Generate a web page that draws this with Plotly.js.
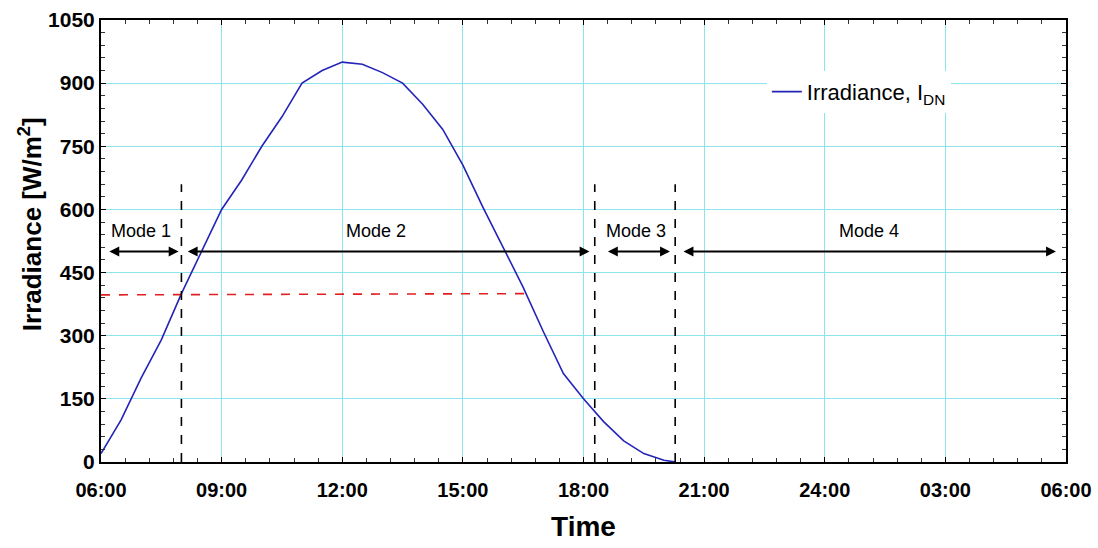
<!DOCTYPE html>
<html><head><meta charset="utf-8">
<script src="https://cdn.plot.ly/plotly-3.0.1.min.js"></script>
<style>html,body{margin:0;padding:0;background:#fff}#chart{width:1098px;height:548px}</style>
</head><body><div id="chart"></div>
<script>
// Time in hours from 06:00 (6) to next-day 06:00 (30)
const timeHours = [6.0,6.5,7.0,7.5,8.0,8.5,9.0,9.5,10.0,10.5,11.0,11.5,12.0,12.5,13.0,13.5,14.0,14.5,15.0,15.5,16.0,16.5,17.0,17.5,18.0,18.5,19.0,19.5,20.0,20.3];
const irradiance = [20,100,200,290,400,500,600,670,750,820,900,930,950,945,925,900,850,790,705,605,510,415,310,210,150,96,50,20,4,0];
const tickVals = [6,9,12,15,18,21,24,27,30];
const tickText = ["06:00","09:00","12:00","15:00","18:00","21:00","24:00","03:00","06:00"];
const modeBounds = [8.0,18.28,20.28];      // dashed vertical lines (hours)
const modeLineTop = 660;
const thresholdLevel = 400;
const thresholdEnd = 16.55;
const modeNames = ["Mode 1","Mode 2","Mode 3","Mode 4"];
const modeStart = [6.17,8.12,18.57,20.45];
const modeEnd = [7.93,18.15,20.15,29.75];
const modeLabelX = [7.0,12.85,19.3,25.1];
const arrowLevel = 500;
const labelLevel = 548;
const yTitle = '<b>Irradiance [W/m<sup>2</sup>]</b>';

const traces = [
  {x: timeHours, y: irradiance, mode:'lines', name:'Irradiance, I<sub>DN</sub>',
   line:{color:'#2424b8', width:1.6}},
  {x:[6, thresholdEnd], y:[thresholdLevel-3, thresholdLevel], mode:'lines', showlegend:false,
   line:{color:'#e02020', width:1.6, dash:'dash'}}
];
modeBounds.forEach(b => traces.push({x:[b,b], y:[0,modeLineTop], mode:'lines', showlegend:false,
   line:{color:'#000', width:1.6, dash:'dash'}}));

const annotations = [];
for (let i=0;i<modeNames.length;i++){
  annotations.push({x:modeEnd[i], y:arrowLevel, ax:modeStart[i], ay:arrowLevel, xref:'x', yref:'y', axref:'x', ayref:'y',
    showarrow:true, arrowhead:2, startarrowhead:2, arrowside:'end+start', arrowsize:1.1, arrowwidth:1.8, arrowcolor:'#000', text:''});
  annotations.push({x:modeLabelX[i], y:labelLevel, xref:'x', yref:'y', showarrow:false, text:modeNames[i],
    font:{family:'Arial, Liberation Sans, sans-serif', size:18, color:'#000'}});
}
annotations.push({x:-0.073, y:0.537, xref:'paper', yref:'paper', showarrow:false, textangle:-90, text:yTitle,
  xanchor:'center', yanchor:'middle', font:{family:'Arial, Liberation Sans, sans-serif', size:26, color:'#000'}});

const layout = {
  width:1098, height:548,
  margin:{l:101, r:32, t:20, b:86},
  paper_bgcolor:'#fff', plot_bgcolor:'#fff',
  showlegend:true,
  legend:{x:0.69, y:0.885, xanchor:'left', yanchor:'top', bgcolor:'#fff', borderwidth:0,
    font:{family:'Arial, Liberation Sans, sans-serif', size:22, color:'#000'}},
  xaxis:{range:[6,30], tickvals:tickVals, ticktext:tickText, showgrid:true, gridcolor:'rgb(140,228,236)', gridwidth:1.2,
    zeroline:false, showline:true, linecolor:'#000', linewidth:2, mirror:'ticks', ticks:'inside', ticklen:5, tickcolor:'#000',
    ticklabelstandoff:9,
    minor:{dtick:0.6, ticks:'inside', ticklen:4, tickcolor:'#333', showgrid:false},
    tickfont:{family:'Arial, Liberation Sans, sans-serif', size:20, color:'#000', weight:'bold'},
    title:{text:'<b>Time</b>', font:{family:'Arial, Liberation Sans, sans-serif', size:28, color:'#000'}, standoff:16}},
  yaxis:{range:[0,1050], dtick:150, tick0:0, showgrid:true, gridcolor:'rgb(140,228,236)', gridwidth:1.2,
    zeroline:false, showline:true, linecolor:'#000', linewidth:2, mirror:'ticks', ticks:'inside', ticklen:5, tickcolor:'#000',
    minor:{dtick:30, ticks:'inside', ticklen:4, tickcolor:'#333', showgrid:false},
    tickfont:{family:'Arial, Liberation Sans, sans-serif', size:21, color:'#000', weight:'bold'}},
  annotations: annotations
};
Plotly.newPlot('chart', traces, layout, {displayModeBar:false, staticPlot:true});
</script></body></html>
